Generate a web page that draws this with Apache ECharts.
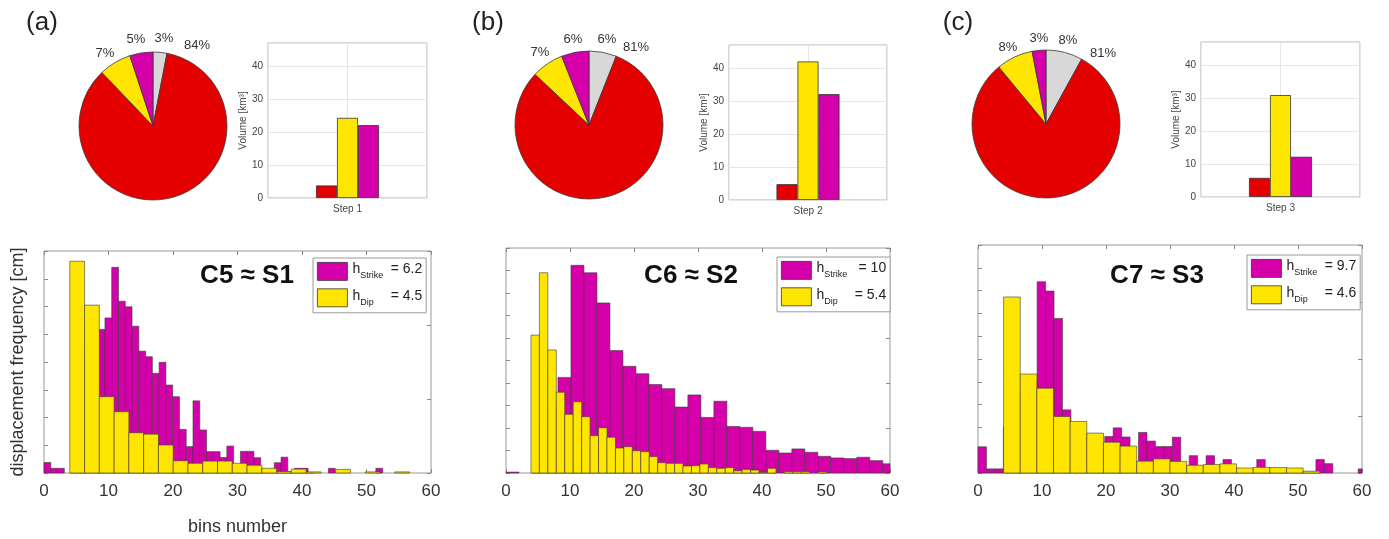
<!DOCTYPE html>
<html><head><meta charset="utf-8">
<script src="https://cdn.jsdelivr.net/npm/echarts@6/dist/echarts.min.js"></script>
<style>html,body{margin:0;padding:0;background:#fff}#c{width:1389px;height:539px}</style>
</head><body><div id="c"></div>
<script>
// ---------------- DATA ----------------
const panelLetters = ['(a)', '(b)', '(c)'];
const caseTitles = ['C5 \u2248 S1', 'C6 \u2248 S2', 'C7 \u2248 S3'];
const stepLabels = ['Step 1', 'Step 2', 'Step 3'];

// pie slices, clockwise from 12 o'clock: grey, red, yellow, magenta (percent)
const sliceNames = ['grey', 'red', 'yellow', 'magenta'];
const pieA = [3, 84, 7, 5];
const pieB = [6, 81, 7, 6];
const pieC = [8, 81, 8, 3];

// volumes [km3] per step
const volRed = [3.8, 4.8, 5.8];
const volYellow = [24.3, 42.0, 30.9];
const volMagenta = [22.1, 32.1, 12.2];

// histogram bin definitions (bins number)
const strikeBinStart = [0, 0, 0];
const strikeBinWidth = [1.05, 2.03, 1.32];
const dipBinStart = [4.0, 3.9, 4.0];
const dipBinWidth = [2.29, 1.32, 2.6];

// legend values
const hStrike = [6.2, 10, 9.7];
const hDip = [4.5, 5.4, 4.6];

// histogram heights (displacement frequency, arbitrary units)
const strikeA = [0.38,0.17,0.17,0,3.0,4.0,4.5,5.0,5.17,5.59,7.41,6.19,5.99,5.29,4.39,4.19,3.59,3.99,3.17,2.75,
  1.57,0.95,2.6,1.55,0.77,0.77,0.56,0.97,0.3,0.78,0.78,0.55,0.12,0.1,0.37,0.57,0.05,0.17,0.17,0.02,
  0,0,0.17,0,0,0,0,0,0,0.17,0,0,0,0,0,0,0];
const dipA = [7.63,6.05,2.75,2.21,1.45,1.40,1.01,0.44,0.35,0.43,0.43,0.35,0.28,0.17,0.05,0.14,0.04,0,0.13,0,0.04,0,0.04];

const strikeB = [0.04,0,2.0,3.0,4.25,9.23,8.9,7.56,5.44,4.74,4.41,3.93,3.75,2.93,3.47,2.47,3.19,2.07,2.03,1.85,
  1.01,0.89,1.07,0.92,0.74,0.67,0.64,0.70,0.55,0.41];
const dipB = [6.13,8.9,5.47,3.59,2.61,3.17,2.5,1.66,2.01,1.59,1.11,1.17,0.99,0.95,0.73,0.46,0.43,0.43,0.31,0.33,
  0.4,0.24,0.21,0.24,0.1,0.16,0.13,0.03,0.21,0,0.06,0.06,0.06,0,0.05];

const strikeC = [1.15,0.18,0.18,2.0,3.0,3.5,4.0,8.39,7.98,6.78,2.77,2.0,1.7,1.5,1.3,1.6,1.98,1.58,0.45,1.78,
  1.4,1.16,1.16,1.57,0.3,0.76,0.3,0.76,0.3,0.59,0.2,0.15,0.15,0.59,0.1,0.1,0.1,0.1,0.05,0.05,
  0.59,0.41,0,0,0,0.18];
const dipC = [7.72,4.34,3.72,2.48,2.26,1.75,1.35,1.18,0.52,0.62,0.51,0.34,0.37,0.40,0.22,0.25,0.24,0.22,0.08];

// ---------------- LAYOUT / STYLE ----------------
const RED = '#E50000', YEL = '#FFE600', MAG = '#D600AA', GRY = '#D8D8D8';
const FONT = '"Liberation Sans", Arial, Helvetica, sans-serif';
const pies = [pieA, pieB, pieC];
const strikes = [strikeA, strikeB, strikeC];
const dips = [dipA, dipB, dipC];
const histGrids = [
  {left: 44, top: 251, width: 387, height: 222},
  {left: 506, top: 248, width: 384, height: 225},
  {left: 978, top: 245, width: 384, height: 228}];
const histYMax = [8, 10, 10];
const histRightMax = [3, 5, 4];
const barGrids = [
  {left: 268, top: 43, width: 159, height: 155},
  {left: 729, top: 45, width: 158, height: 155},
  {left: 1201, top: 42, width: 159, height: 155}];
const pieCenters = [[153, 126], [589, 125], [1046, 124]];
const pieLabelPos = [
  [[164, 38], [197, 45], [105, 53], [136, 39]],
  [[607, 39], [636, 47], [540, 52], [573, 39]],
  [[1068, 40], [1103, 53], [1008, 47], [1039, 38]]];
const letterPos = [[42, 23], [488, 23], [958, 23]];
const titlePos = [[247, 276], [691, 276], [1157, 276]];
const legendPos = [[313, 258], [777, 257], [1247, 255]];
const sliceColors = [GRY, RED, YEL, MAG];

function histRender(color) {
  return function (params, api) {
    const h = api.value(2);
    if (!(h > 0)) return null;
    const p0 = api.coord([api.value(0), 0]);
    const p1 = api.coord([api.value(1), h]);
    const cs = params.coordSys;
    const r = echarts.graphic.clipRectByRect(
      {x: p0[0], y: p1[1], width: p1[0] - p0[0], height: p0[1] - p1[1]},
      {x: cs.x, y: cs.y, width: cs.width, height: cs.height});
    if (!r) return null;
    return {type: 'rect', shape: r, style: {fill: color, stroke: '#3a3a3a', lineWidth: 0.6}};
  };
}
function bins(vals, start, w) {
  return vals.map((v, i) => [start + i * w, start + (i + 1) * w, v]);
}
function tick() {
  return {show: true, inside: true, length: 4, lineStyle: {color: '#8a8a8a', width: 1}};
}
function noLine() {
  return {show: false, onZero: false};
}

const grid = [], xAxis = [], yAxis = [], series = [], legend = [], graphic = [];

for (let i = 0; i < 3; i++) {
  grid.push(Object.assign({show: true, borderColor: '#9a9a9a', borderWidth: 1, backgroundColor: '#fff'}, histGrids[i]));
}
for (let i = 0; i < 3; i++) {
  grid.push(Object.assign({show: true, borderColor: '#b0b0b0', borderWidth: 1, backgroundColor: '#fff'}, barGrids[i]));
}

// histogram axes
for (let i = 0; i < 3; i++) {
  xAxis.push({
    type: 'value', gridIndex: i, min: 0, max: 60, interval: 10, position: 'bottom',
    axisLine: noLine(), splitLine: {show: false}, axisTick: tick(),
    axisLabel: {color: '#333', fontSize: 17, fontFamily: FONT, margin: 10},
    name: i === 0 ? 'bins number' : '', nameLocation: 'middle', nameGap: 45,
    nameTextStyle: {color: '#333', fontSize: 18, fontFamily: FONT}
  });
  xAxis.push({
    type: 'value', gridIndex: i, min: 0, max: 60, interval: 10, position: 'top',
    axisLine: noLine(), splitLine: {show: false}, axisTick: tick(), axisLabel: {show: false}
  });
  yAxis.push({
    type: 'value', gridIndex: i, min: 0, max: histYMax[i], interval: 1, position: 'left',
    axisLine: noLine(), splitLine: {show: false}, axisTick: tick(), axisLabel: {show: false},
    name: i === 0 ? 'displacement frequency [cm]' : '', nameLocation: 'middle', nameGap: 17,
    nameTextStyle: {color: '#333', fontSize: 18, fontFamily: FONT}
  });
  yAxis.push({
    type: 'value', gridIndex: i, min: 0, max: histRightMax[i], interval: 1, position: 'right',
    axisLine: noLine(), splitLine: {show: false}, axisTick: tick(), axisLabel: {show: false}
  });
}
// bar chart axes: x index 6..8 (category), 9..11 (value helper for centre grid line)
for (let i = 0; i < 3; i++) {
  xAxis.push({
    type: 'category', gridIndex: 3 + i, data: [stepLabels[i]], position: 'bottom',
    axisLine: noLine(), axisTick: {show: false}, splitLine: {show: false},
    axisLabel: {color: '#444', fontSize: 10, fontFamily: FONT, margin: 6}
  });
  yAxis.push({
    type: 'value', gridIndex: 3 + i, min: 0, max: 47, interval: 10,
    axisLine: noLine(), axisTick: {show: false},
    splitLine: {show: true, lineStyle: {color: '#e6e6e6'}},
    axisLabel: {color: '#444', fontSize: 10, fontFamily: FONT, margin: 5, showMaxLabel: false},
    name: 'Volume [km\u00b3]', nameLocation: 'middle', nameGap: 14,
    nameTextStyle: {color: '#444', fontSize: 10, fontFamily: FONT}
  });
}
for (let i = 0; i < 3; i++) {
  xAxis.push({
    type: 'value', gridIndex: 3 + i, min: 0, max: 2, interval: 1, position: 'top',
    axisLine: noLine(), axisTick: {show: false}, axisLabel: {show: false},
    splitLine: {show: true, lineStyle: {color: '#e6e6e6'}}
  });
}

for (let i = 0; i < 3; i++) {
  const sName = 'Strike ' + 'abc'[i], dName = 'Dip ' + 'abc'[i];
  series.push({
    type: 'custom', name: sName, xAxisIndex: 2 * i, yAxisIndex: 2 * i,
    renderItem: histRender(MAG), data: bins(strikes[i], strikeBinStart[i], strikeBinWidth[i]),
    encode: {x: [0, 1], y: 2}, itemStyle: {color: MAG}, silent: true, z: 2
  });
  series.push({
    type: 'custom', name: dName, xAxisIndex: 2 * i, yAxisIndex: 2 * i,
    renderItem: histRender(YEL), data: bins(dips[i], dipBinStart[i], dipBinWidth[i]),
    encode: {x: [0, 1], y: 2}, itemStyle: {color: YEL}, silent: true, z: 3
  });
  legend.push({
    orient: 'vertical', left: legendPos[i][0], top: legendPos[i][1],
    data: [sName, dName], itemWidth: 30, itemHeight: 18, itemGap: 6, padding: [4, 4, 4, 4],
    borderColor: '#9a9a9a', borderWidth: 1, backgroundColor: '#fff', icon: 'rect', selectedMode: false,
    itemStyle: {borderColor: '#333', borderWidth: 0.8},
    formatter: (function (idx) {
      return function (name) {
        const isS = name.indexOf('Strike') === 0;
        return '{h|h}{s|' + (isS ? 'Strike' : 'Dip') + '}{v|= ' + (isS ? hStrike[idx] : hDip[idx]) + '}';
      };
    })(i),
    textStyle: {
      fontFamily: FONT, color: '#222',
      rich: {
        h: {fontSize: 14, fontFamily: FONT, color: '#222', lineHeight: 18, verticalAlign: 'top', padding: [0, 0, 6, 0]},
        s: {fontSize: 9, fontFamily: FONT, color: '#222', lineHeight: 18, width: 30, verticalAlign: 'bottom', padding: [6, 0, 0, 0]},
        v: {fontSize: 14, fontFamily: FONT, color: '#222', lineHeight: 18, width: 32, align: 'right', verticalAlign: 'top', padding: [0, 0, 6, 0]}
      }
    }
  });
}

for (let i = 0; i < 3; i++) {
  const xa = 6 + i, ya = 6 + i;
  [[volRed, RED], [volYellow, YEL], [volMagenta, MAG]].forEach(function (p) {
    series.push({
      type: 'bar', xAxisIndex: xa, yAxisIndex: ya, data: [p[0][i]], barWidth: 21, barGap: '0%', z: 2,
      itemStyle: {color: p[1], borderColor: '#333', borderWidth: 0.8}, silent: true
    });
  });
}

for (let i = 0; i < 3; i++) {
  series.push({
    type: 'pie', center: pieCenters[i], radius: 74, startAngle: 90, clockwise: true, silent: true,
    label: {show: false}, labelLine: {show: false},
    itemStyle: {borderColor: '#3a3a3a', borderWidth: 0.8},
    data: pies[i].map((v, k) => ({name: sliceNames[k] + ' ' + i, value: v, itemStyle: {color: sliceColors[k]}}))
  });
  pies[i].forEach(function (v, k) {
    graphic.push({type: 'text', x: pieLabelPos[i][k][0], y: pieLabelPos[i][k][1], z: 10, silent: true,
      style: {text: v + '%', fill: '#333', font: '13px ' + FONT, textAlign: 'center', textVerticalAlign: 'middle'}});
  });
  graphic.push({type: 'text', x: letterPos[i][0], y: letterPos[i][1], z: 10, silent: true,
    style: {text: panelLetters[i], fill: '#222', font: '26px ' + FONT, textAlign: 'center', textVerticalAlign: 'middle'}});
  graphic.push({type: 'text', x: titlePos[i][0], y: titlePos[i][1], z: 10, silent: true,
    style: {text: caseTitles[i], fill: '#111', font: 'bold 26px ' + FONT, textAlign: 'center', textVerticalAlign: 'middle'}});
}

const chart = echarts.init(document.getElementById('c'), null, {renderer: 'canvas'});
chart.setOption({animation: false, backgroundColor: '#fff', grid, xAxis, yAxis, series, legend, graphic});
</script></body></html>
